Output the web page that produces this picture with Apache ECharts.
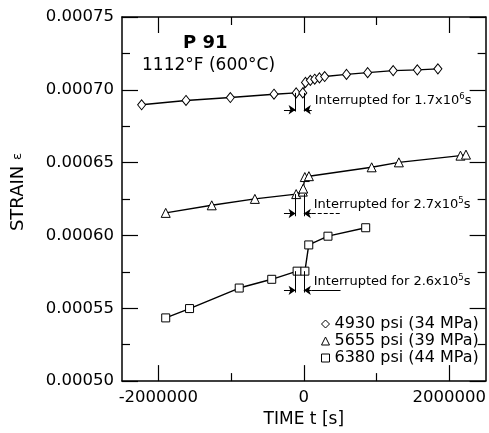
<!DOCTYPE html>
<html>
<head>
<meta charset="utf-8">
<script src="https://cdn.jsdelivr.net/npm/echarts@6/dist/echarts.min.js"></script>
<style>html,body{margin:0;padding:0;background:#fff;}#c{width:489px;height:433px;}</style>
</head>
<body>
<div id="c"></div>
<script>
// ---- data (time t [s], strain) ----
const seriesNames = ['4930 psi (34 MPa)', '5655 psi (39 MPa)', '6380 psi (44 MPa)'];
const t4930 = [-2230000, -1620000, -1010000, -410000, -105000, -14000, 23000, 90000, 150000, 215000, 287000, 587000, 878000, 1229000, 1561000, 1844000];
const e4930 = [0.0006897, 0.0006927, 0.0006947, 0.0006970, 0.0006979, 0.0006979, 0.0007051, 0.0007065, 0.0007073, 0.0007082, 0.0007091, 0.0007106, 0.0007118, 0.0007132, 0.0007137, 0.0007144];
const t5655 = [-1899000, -1266000, -673000, -105000, -14000, -8000, 14000, 70000, 933000, 1307000, 2154000, 2230000];
const e5655 = [0.0006155, 0.0006207, 0.0006251, 0.0006284, 0.0006301, 0.0006322, 0.0006401, 0.0006407, 0.0006468, 0.0006502, 0.0006548, 0.0006555];
const t6380 = [-1899000, -1571000, -888000, -441000, -92000, 15000, 68000, 332000, 851000];
const e6380 = [0.0005434, 0.0005498, 0.0005639, 0.0005699, 0.0005755, 0.0005755, 0.0005935, 0.0005995, 0.0006053];
const xMajorTicks = [-2000000, 0, 2000000];
const xMinorTicks = [-1000000, 1000000];
const interruptTexts = ['Interrupted for 1.7x10{sup|6}s', 'Interrupted for 2.7x10{sup|5}s', 'Interrupted for 2.6x10{sup|5}s'];
// annotation anchor points in data space
const annXLeft = [-113000, -113000, -113000];
const annXRight = [0, 0, 0];
const annYTop = [0.0006979, 0.0006284, 0.0005755];
const annYBottom = [0.0006851, 0.0006132, 0.0005608];
const annYArrow = [0.0006863, 0.0006151, 0.0005623];
const annArrowFromL = [-273000, -273000, -273000];
const annArrowFromR = [109000, 109000, 109000];
const annTailTo = [null, 505000, 505000];
const annTextX = [150000, 137000, 137000];
const annTextY = [0.0006925, 0.0006212, 0.0005685];

const FONT = 'DejaVu Sans';
const symbols = ['diamond', 'triangle', 'rect'];
const symbolSizes = [[8, 10], 9, 8];
const tData = [t4930, t5655, t6380];
const eData = [e4930, e5655, e6380];

function zip(a, b) { return a.map((v, i) => [v, b[i]]); }

function markLines(i) {
  const lines = [
    [{coord: [annXLeft[i], annYTop[i]]}, {coord: [annXLeft[i], annYBottom[i]]}],
    [{coord: [annXRight[i], annYTop[i]]}, {coord: [annXRight[i], annYBottom[i]]}],
    [{coord: [annArrowFromL[i], annYArrow[i]]}, {coord: [annXLeft[i], annYArrow[i]], symbol: 'arrow', symbolSize: 7}],
    [{coord: [annArrowFromR[i], annYArrow[i]]}, {coord: [annXRight[i], annYArrow[i]], symbol: 'arrow', symbolSize: 7}]
  ];
  if (annTailTo[i] !== null) {
    lines.push([{coord: [annArrowFromR[i], annYArrow[i]], lineStyle: {type: i === 1 ? 'dashed' : 'solid'}},
                {coord: [annTailTo[i], annYArrow[i]]}]);
  }
  return lines;
}

const series = seriesNames.map((name, i) => ({
  name: name,
  type: 'line',
  data: zip(tData[i], eData[i]),
  symbol: symbols[i],
  symbolSize: symbolSizes[i],
  showAllSymbol: true,
  lineStyle: {color: '#000', width: 1.4},
  itemStyle: {color: '#fff', borderColor: '#000', borderWidth: 1},
  emphasis: {disabled: true},
  animation: false,
  z: 3,
  markLine: {
    silent: true,
    animation: false,
    symbol: ['none', 'none'],
    label: {show: false},
    lineStyle: {color: '#000', width: 1, type: 'solid'},
    emphasis: {disabled: true},
    data: markLines(i)
  },
  markPoint: {
    silent: true,
    animation: false,
    symbol: 'rect',
    symbolSize: 0,
    data: [{
      coord: [annTextX[i], annTextY[i]],
      label: {
        show: true, position: 'right', distance: 0,
        color: '#000', fontFamily: FONT, fontSize: 13,
        formatter: interruptTexts[i],
        rich: {sup: {fontSize: 8.5, fontFamily: FONT, color: '#000', padding: [0, 0, 7, 0]}}
      }
    }]
  }
}));

const axisLineStyle = {color: '#000', width: 1.5};
const tickStyle = {color: '#000', width: 1.2};
const xBase = {type: 'value', min: -2500000, max: 2500000, splitLine: {show: false}};

const option = {
  backgroundColor: '#fff',
  animation: false,
  grid: {left: 122, right: 2, top: 17, bottom: 51},
  title: [
    {text: 'P 91', left: 183, top: 34, padding: 0,
     textStyle: {fontFamily: FONT, fontSize: 18, fontWeight: 'bold', color: '#000'}},
    {text: '1112°F (600°C)', left: 142, top: 57, padding: 0,
     textStyle: {fontFamily: FONT, fontSize: 17, fontWeight: 'normal', color: '#000'}}
  ],
  legend: {
    orient: 'vertical', left: 316, top: 311, itemWidth: 8, itemHeight: 8, itemGap: 1,
    selectedMode: false,
    textStyle: {fontFamily: FONT, fontSize: 16, color: '#000'},
    itemStyle: {color: '#fff', borderColor: '#000', borderWidth: 1},
    data: seriesNames.map((n, i) => ({name: n, icon: symbols[i]}))
  },
  xAxis: [
    Object.assign({}, xBase, {
      position: 'bottom',
      name: 'TIME t [s]', nameLocation: 'middle', nameGap: 24,
      nameTextStyle: {fontFamily: FONT, fontSize: 17, color: '#000'},
      axisLine: {show: true, onZero: false, lineStyle: axisLineStyle},
      axisTick: {show: true, inside: true, length: 16, customValues: xMajorTicks, lineStyle: tickStyle},
      axisLabel: {customValues: xMajorTicks, margin: 8, fontFamily: FONT, fontSize: 16.5, color: '#000',
                  formatter: v => String(v)}
    }),
    Object.assign({}, xBase, {
      position: 'bottom',
      axisLine: {show: false, onZero: false},
      axisTick: {show: true, inside: true, length: 8, customValues: xMinorTicks, lineStyle: tickStyle},
      axisLabel: {show: false}
    }),
    Object.assign({}, xBase, {
      position: 'top',
      axisLine: {show: true, onZero: false, lineStyle: axisLineStyle},
      axisTick: {show: true, inside: true, length: 16, customValues: xMajorTicks, lineStyle: tickStyle},
      axisLabel: {show: false}
    }),
    Object.assign({}, xBase, {
      position: 'top',
      axisLine: {show: false, onZero: false},
      axisTick: {show: true, inside: true, length: 8, customValues: xMinorTicks, lineStyle: tickStyle},
      axisLabel: {show: false}
    })
  ],
  yAxis: [
    {
      type: 'value', min: 0.0005, max: 0.00075, interval: 0.00005, position: 'left',
      name: '{a|STRAIN }{b|ε}', nameLocation: 'middle', nameGap: 95,
      nameTextStyle: {fontFamily: FONT, fontSize: 18, color: '#000', padding: [0, 0, 0, 14],
                      rich: {a: {fontFamily: FONT, fontSize: 18, color: '#000'}, b: {fontFamily: FONT, fontSize: 13, color: '#000'}}},
      axisLine: {show: true, onZero: false, lineStyle: axisLineStyle},
      axisTick: {show: true, inside: true, length: 16, lineStyle: tickStyle},
      minorTick: {show: true, splitNumber: 2, length: 8, lineStyle: tickStyle},
      axisLabel: {margin: 8, fontFamily: FONT, fontSize: 16.5, color: '#000', formatter: v => v.toFixed(5)},
      splitLine: {show: false}, minorSplitLine: {show: false}
    },
    {
      type: 'value', min: 0.0005, max: 0.00075, interval: 0.00005, position: 'right',
      axisLine: {show: true, onZero: false, lineStyle: axisLineStyle},
      axisTick: {show: true, inside: true, length: 16, lineStyle: tickStyle},
      minorTick: {show: true, splitNumber: 2, length: 8, lineStyle: tickStyle},
      axisLabel: {show: false},
      splitLine: {show: false}, minorSplitLine: {show: false}
    }
  ],
  series: series
};

const chart = echarts.init(document.getElementById('c'), null, {renderer: 'canvas'});
chart.setOption(option);
</script>
</body>
</html>
